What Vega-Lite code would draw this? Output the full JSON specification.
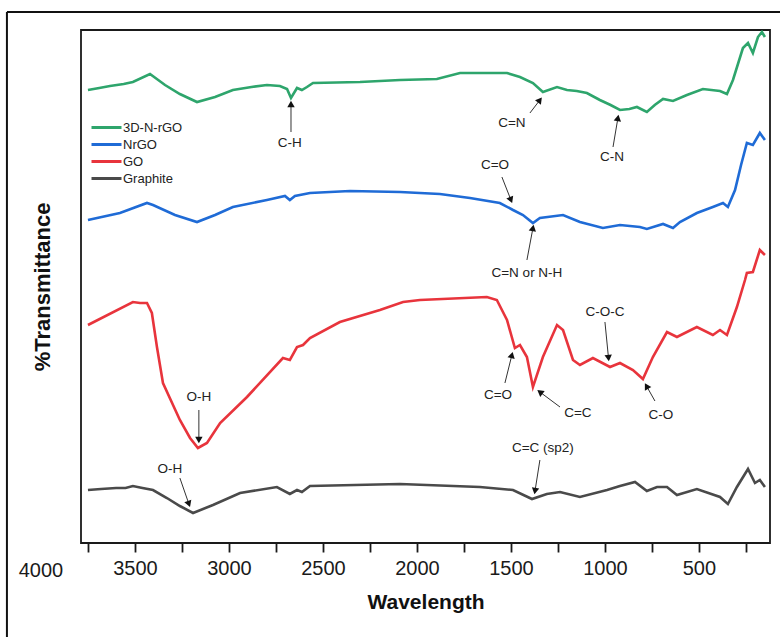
{
  "$schema": "https://vega.github.io/schema/vega-lite/v6.json",
  "autosize": "none",
  "width": 689,
  "height": 513,
  "padding": {"left": 81, "top": 30, "right": 10, "bottom": 94},
  "background": "white",
  "config": {
    "font": "Liberation Sans",
    "view": {"stroke": "#1a1a1a", "strokeWidth": 1.8}
  },
  "datasets": {
    "spectra": [
      {"s":"3D-N-rGO","w":3750,"t":453},{"s":"3D-N-rGO","w":3690,"t":455},{"s":"3D-N-rGO","w":3633,"t":457},{"s":"3D-N-rGO","w":3560,"t":459},{"s":"3D-N-rGO","w":3511,"t":461},{"s":"3D-N-rGO","w":3420,"t":469},{"s":"3D-N-rGO","w":3340,"t":458},{"s":"3D-N-rGO","w":3261,"t":449},{"s":"3D-N-rGO","w":3170,"t":441},{"s":"3D-N-rGO","w":3074,"t":446},{"s":"3D-N-rGO","w":2979,"t":453},{"s":"3D-N-rGO","w":2880,"t":456},{"s":"3D-N-rGO","w":2798,"t":458},{"s":"3D-N-rGO","w":2729,"t":457},{"s":"3D-N-rGO","w":2691,"t":454},{"s":"3D-N-rGO","w":2670,"t":445},{"s":"3D-N-rGO","w":2638,"t":455},{"s":"3D-N-rGO","w":2612,"t":453},{"s":"3D-N-rGO","w":2585,"t":456},{"s":"3D-N-rGO","w":2553,"t":460},{"s":"3D-N-rGO","w":2303,"t":461},{"s":"3D-N-rGO","w":2090,"t":463},{"s":"3D-N-rGO","w":1894,"t":464},{"s":"3D-N-rGO","w":1771,"t":470},{"s":"3D-N-rGO","w":1521,"t":470},{"s":"3D-N-rGO","w":1452,"t":466},{"s":"3D-N-rGO","w":1383,"t":460},{"s":"3D-N-rGO","w":1330,"t":451},{"s":"3D-N-rGO","w":1255,"t":456},{"s":"3D-N-rGO","w":1202,"t":453},{"s":"3D-N-rGO","w":1150,"t":452},{"s":"3D-N-rGO","w":1096,"t":450},{"s":"3D-N-rGO","w":1027,"t":443},{"s":"3D-N-rGO","w":970,"t":438},{"s":"3D-N-rGO","w":920,"t":433},{"s":"3D-N-rGO","w":870,"t":434},{"s":"3D-N-rGO","w":830,"t":436},{"s":"3D-N-rGO","w":777,"t":431},{"s":"3D-N-rGO","w":735,"t":438},{"s":"3D-N-rGO","w":691,"t":444},{"s":"3D-N-rGO","w":638,"t":442},{"s":"3D-N-rGO","w":564,"t":448},{"s":"3D-N-rGO","w":479,"t":454},{"s":"3D-N-rGO","w":388,"t":452},{"s":"3D-N-rGO","w":351,"t":449},{"s":"3D-N-rGO","w":319,"t":463},{"s":"3D-N-rGO","w":266,"t":495},{"s":"3D-N-rGO","w":239,"t":500},{"s":"3D-N-rGO","w":213,"t":490},{"s":"3D-N-rGO","w":186,"t":506},{"s":"3D-N-rGO","w":165,"t":511},{"s":"3D-N-rGO","w":149,"t":506},
      {"s":"NrGO","w":3750,"t":323},{"s":"NrGO","w":3580,"t":330},{"s":"NrGO","w":3436,"t":340},{"s":"NrGO","w":3404,"t":338},{"s":"NrGO","w":3287,"t":328},{"s":"NrGO","w":3170,"t":321},{"s":"NrGO","w":3074,"t":328},{"s":"NrGO","w":2979,"t":336},{"s":"NrGO","w":2798,"t":343},{"s":"NrGO","w":2702,"t":347},{"s":"NrGO","w":2676,"t":343},{"s":"NrGO","w":2649,"t":347},{"s":"NrGO","w":2569,"t":350},{"s":"NrGO","w":2356,"t":352},{"s":"NrGO","w":2090,"t":351},{"s":"NrGO","w":1878,"t":349},{"s":"NrGO","w":1718,"t":345},{"s":"NrGO","w":1559,"t":340},{"s":"NrGO","w":1489,"t":333},{"s":"NrGO","w":1436,"t":328},{"s":"NrGO","w":1383,"t":320},{"s":"NrGO","w":1346,"t":325},{"s":"NrGO","w":1223,"t":328},{"s":"NrGO","w":1133,"t":321},{"s":"NrGO","w":1011,"t":315},{"s":"NrGO","w":920,"t":318},{"s":"NrGO","w":814,"t":316},{"s":"NrGO","w":777,"t":314},{"s":"NrGO","w":691,"t":319},{"s":"NrGO","w":638,"t":315},{"s":"NrGO","w":601,"t":321},{"s":"NrGO","w":511,"t":330},{"s":"NrGO","w":426,"t":336},{"s":"NrGO","w":372,"t":340},{"s":"NrGO","w":346,"t":336},{"s":"NrGO","w":308,"t":353},{"s":"NrGO","w":276,"t":378},{"s":"NrGO","w":245,"t":400},{"s":"NrGO","w":213,"t":398},{"s":"NrGO","w":176,"t":410},{"s":"NrGO","w":149,"t":403},
      {"s":"GO","w":3750,"t":218},{"s":"GO","w":3511,"t":241},{"s":"GO","w":3473,"t":240},{"s":"GO","w":3436,"t":240},{"s":"GO","w":3410,"t":230},{"s":"GO","w":3383,"t":196},{"s":"GO","w":3351,"t":160},{"s":"GO","w":3261,"t":123},{"s":"GO","w":3207,"t":105},{"s":"GO","w":3165,"t":95},{"s":"GO","w":3117,"t":100},{"s":"GO","w":3047,"t":120},{"s":"GO","w":2904,"t":146},{"s":"GO","w":2713,"t":185},{"s":"GO","w":2676,"t":183},{"s":"GO","w":2638,"t":196},{"s":"GO","w":2606,"t":198},{"s":"GO","w":2569,"t":205},{"s":"GO","w":2410,"t":221},{"s":"GO","w":2197,"t":233},{"s":"GO","w":2074,"t":241},{"s":"GO","w":1984,"t":243},{"s":"GO","w":1628,"t":246},{"s":"GO","w":1575,"t":243},{"s":"GO","w":1521,"t":223},{"s":"GO","w":1479,"t":195},{"s":"GO","w":1452,"t":198},{"s":"GO","w":1415,"t":186},{"s":"GO","w":1383,"t":156},{"s":"GO","w":1330,"t":186},{"s":"GO","w":1255,"t":218},{"s":"GO","w":1223,"t":213},{"s":"GO","w":1170,"t":183},{"s":"GO","w":1133,"t":178},{"s":"GO","w":1064,"t":185},{"s":"GO","w":973,"t":176},{"s":"GO","w":920,"t":180},{"s":"GO","w":851,"t":173},{"s":"GO","w":798,"t":164},{"s":"GO","w":745,"t":186},{"s":"GO","w":670,"t":211},{"s":"GO","w":617,"t":206},{"s":"GO","w":511,"t":216},{"s":"GO","w":426,"t":208},{"s":"GO","w":388,"t":213},{"s":"GO","w":351,"t":208},{"s":"GO","w":298,"t":236},{"s":"GO","w":255,"t":263},{"s":"GO","w":245,"t":270},{"s":"GO","w":213,"t":271},{"s":"GO","w":176,"t":293},{"s":"GO","w":149,"t":288},
      {"s":"Graphite","w":3750,"t":53},{"s":"Graphite","w":3680,"t":54},{"s":"Graphite","w":3600,"t":55},{"s":"Graphite","w":3550,"t":55},{"s":"Graphite","w":3511,"t":57},{"s":"Graphite","w":3460,"t":55},{"s":"Graphite","w":3404,"t":53},{"s":"Graphite","w":3330,"t":45},{"s":"Graphite","w":3261,"t":37},{"s":"Graphite","w":3191,"t":30},{"s":"Graphite","w":3085,"t":38},{"s":"Graphite","w":2941,"t":50},{"s":"Graphite","w":2745,"t":56},{"s":"Graphite","w":2676,"t":49},{"s":"Graphite","w":2638,"t":53},{"s":"Graphite","w":2612,"t":51},{"s":"Graphite","w":2569,"t":57},{"s":"Graphite","w":2090,"t":59},{"s":"Graphite","w":1665,"t":56},{"s":"Graphite","w":1489,"t":53},{"s":"Graphite","w":1388,"t":44},{"s":"Graphite","w":1309,"t":49},{"s":"Graphite","w":1239,"t":51},{"s":"Graphite","w":1133,"t":46},{"s":"Graphite","w":989,"t":53},{"s":"Graphite","w":920,"t":57},{"s":"Graphite","w":840,"t":61},{"s":"Graphite","w":777,"t":52},{"s":"Graphite","w":723,"t":56},{"s":"Graphite","w":670,"t":56},{"s":"Graphite","w":617,"t":48},{"s":"Graphite","w":511,"t":54},{"s":"Graphite","w":388,"t":46},{"s":"Graphite","w":346,"t":39},{"s":"Graphite","w":298,"t":56},{"s":"Graphite","w":239,"t":74},{"s":"Graphite","w":202,"t":60},{"s":"Graphite","w":176,"t":63},{"s":"Graphite","w":149,"t":56}
    ],
    "notes": [
      {"label":"C-H","w":2676,"t":400},
      {"label":"C=N","w":1495,"t":420},
      {"label":"C-N","w":963,"t":386},
      {"label":"C=O","w":1585,"t":378},
      {"label":"C=N or N-H","w":1415,"t":270},
      {"label":"O-H","w":3160,"t":146},
      {"label":"C=O","w":1569,"t":148},
      {"label":"C=C","w":1144,"t":130},
      {"label":"C-O-C","w":1000,"t":231},
      {"label":"C-O","w":702,"t":128},
      {"label":"O-H","w":3314,"t":74},
      {"label":"C=C (sp2)","w":1330,"t":95}
    ],
    "arrows": [
      {"w1":2670,"t1":411,"w2":2670,"t2":439,"a":0},
      {"w1":1399,"t1":430,"w2":1346,"t2":443,"a":37},
      {"w1":957,"t1":396,"w2":931,"t2":425,"a":10},
      {"w1":1548,"t1":366,"w2":1500,"t2":343,"a":158},
      {"w1":1415,"t1":283,"w2":1383,"t2":315,"a":11},
      {"w1":3160,"t1":133,"w2":3160,"t2":103,"a":180},
      {"w1":1532,"t1":160,"w2":1495,"t2":188,"a":14},
      {"w1":1239,"t1":136,"w2":1346,"t2":151,"a":-53},
      {"w1":1000,"t1":221,"w2":981,"t2":185,"a":174},
      {"w1":734,"t1":142,"w2":779,"t2":157,"a":-30},
      {"w1":3261,"t1":65,"w2":3213,"t2":39,"a":160},
      {"w1":1346,"t1":83,"w2":1372,"t2":52,"a":190}
    ]
  },
  "layer": [
    {
      "data": {"name": "spectra"},
      "mark": {"type": "line", "strokeWidth": 2.6, "clip": true},
      "encoding": {
        "x": {
          "field": "w", "type": "quantitative",
          "scale": {"domain": [122, 3787], "reverse": true, "nice": false, "zero": false},
          "axis": {
            "title": "Wavelength",
            "titleFontSize": 21, "titleFontWeight": "bold", "titleColor": "#111", "titlePadding": 13,
            "values": [3750,3500,3250,3000,2750,2500,2250,2000,1750,1500,1250,1000,750,500,250],
            "labelExpr": "datum.value % 500 == 0 ? format(datum.value, 'd') : ''",
            "labelFontSize": 20, "labelColor": "#1a1a1a", "labelPadding": 6, "labelOverlap": false, "labelFlush": false,
            "tickSize": 9, "tickWidth": 1.8, "tickColor": "#1a1a1a",
            "domain": false, "grid": false
          }
        },
        "y": {
          "field": "t", "type": "quantitative",
          "scale": {"domain": [0, 513], "nice": false, "zero": false},
          "axis": {
            "title": "%Transmittance",
            "titleFontSize": 22, "titleFontWeight": "bold", "titleColor": "#111", "titlePadding": 27,
            "labels": false, "ticks": false, "domain": false, "grid": false
          }
        },
        "color": {
          "field": "s", "type": "nominal",
          "scale": {"domain": ["3D-N-rGO","NrGO","GO","Graphite"], "range": ["#2ea56c","#1f6bd6","#e8343c","#4a4a4a"]},
          "legend": {
            "title": null, "orient": "none", "legendX": 19, "legendY": 91,
            "symbolType": "M-3,0H3", "symbolSize": 100, "symbolStrokeWidth": 3,
            "labelFontSize": 13, "labelColor": "#222", "labelOffset": 10, "rowPadding": 3
          }
        }
      }
    },
    {
      "data": {"name": "arrows"},
      "mark": {"type": "rule", "color": "#333", "strokeWidth": 1},
      "encoding": {
        "x": {"field": "w1", "type": "quantitative"},
        "y": {"field": "t1", "type": "quantitative"},
        "x2": {"field": "w2"},
        "y2": {"field": "t2"}
      }
    },
    {
      "data": {"name": "arrows"},
      "mark": {"type": "point", "shape": "triangle-up", "filled": true, "color": "#111", "size": 55, "opacity": 1},
      "encoding": {
        "x": {"field": "w2", "type": "quantitative"},
        "y": {"field": "t2", "type": "quantitative"},
        "angle": {"field": "a", "type": "quantitative", "scale": null}
      }
    },
    {
      "data": {"name": "notes"},
      "mark": {"type": "text", "fontSize": 13.5, "color": "#222", "align": "center", "baseline": "middle"},
      "encoding": {
        "x": {"field": "w", "type": "quantitative"},
        "y": {"field": "t", "type": "quantitative"},
        "text": {"field": "label"}
      }
    },
    {
      "data": {"values": [{"label": "4000", "w": 4000, "t": -28}]},
      "mark": {"type": "text", "fontSize": 20, "color": "#1a1a1a", "align": "center", "baseline": "middle", "clip": false},
      "encoding": {
        "x": {"field": "w", "type": "quantitative"},
        "y": {"field": "t", "type": "quantitative"},
        "text": {"field": "label"}
      }
    },
    {
      "data": {"values": [{"w": 4181, "t": 531, "w2": 4181, "t2": -200}, {"w": 4181, "t": 531, "w2": -300, "t2": 531}]},
      "mark": {"type": "rule", "color": "#111", "strokeWidth": 2, "clip": false},
      "encoding": {
        "x": {"field": "w", "type": "quantitative"},
        "y": {"field": "t", "type": "quantitative"},
        "x2": {"field": "w2"},
        "y2": {"field": "t2"}
      }
    }
  ]
}
